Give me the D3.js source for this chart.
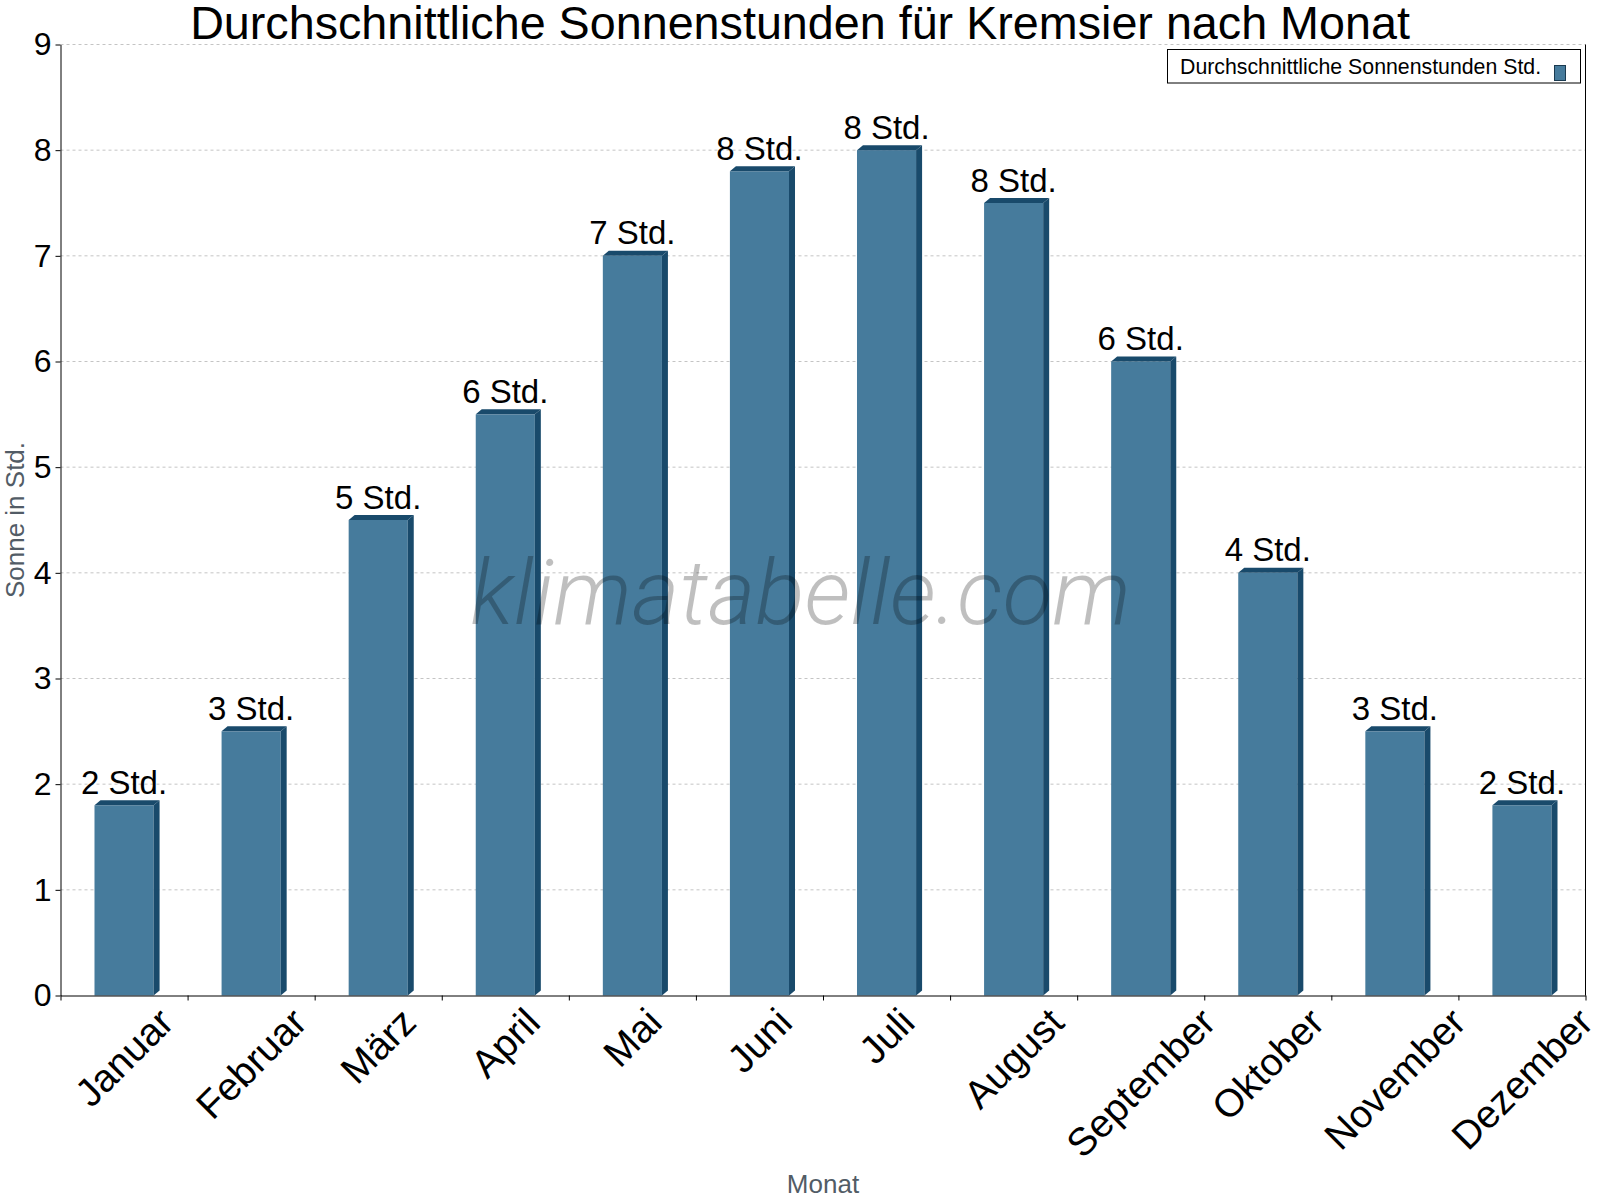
<!DOCTYPE html>
<html>
<head>
<meta charset="utf-8">
<script src="https://cdn.jsdelivr.net/npm/d3@7"></script>
<style>
  html, body { margin: 0; padding: 0; background: #fff; }
  svg { display: block; font-family: 'Liberation Sans', Arial, sans-serif; }
</style>
</head>
<body>
<svg id="chart" width="1600" height="1200"></svg>
<script>
// Données
const months = ['Januar', 'Februar', 'März', 'April', 'Mai', 'Juni', 'Juli', 'August', 'September', 'Oktober', 'November', 'Dezember']
const sunHours = [1.8, 2.5, 4.5, 5.5, 7.0, 7.8, 8.0, 7.5, 6.0, 4.0, 2.5, 1.8]
const barLabels = ['2 Std.', '3 Std.', '5 Std.', '6 Std.', '7 Std.', '8 Std.', '8 Std.', '8 Std.', '6 Std.', '4 Std.', '3 Std.', '2 Std.']
const yTicks = [0, 1, 2, 3, 4, 5, 6, 7, 8, 9]

const title = 'Durchschnittliche Sonnenstunden für Kremsier nach Monat'
const legendLabel = 'Durchschnittliche Sonnenstunden Std.'

const frontColor = '#467b9c'
const darkColor = '#194a6b'
const depth = { x: 6, y: 5 }

const margin = { top: 44.5, right: 14.5, bottom: 204.5, left: 60.5 }
const width = 1600 - margin.left - margin.right
const height = 1200 - margin.top - margin.bottom

const svg = d3.select('#chart')
const g = svg.append('g')
  .attr('transform', `translate(${margin.left},${margin.top})`)

const xScale = d3.scaleBand()
  .domain(months)
  .range([0, width])
  .paddingInner(0.535)
  .paddingOuter(0.2675)

const xEdges = d3.scaleLinear()
  .domain([0, months.length])
  .range([0, width])

const yScale = d3.scaleLinear()
  .domain([0, 9])
  .range([height, 0])

// Lignes de grille pointillées
g.append('g')
  .selectAll('line')
  .data(yTicks.filter(t => t > 0))
  .join('line')
  .attr('x1', 0)
  .attr('x2', width)
  .attr('y1', d => yScale(d))
  .attr('y2', d => yScale(d))
  .attr('stroke', '#c4c4c4')
  .attr('stroke-dasharray', '3,3')

// Barres en faux 3D
const bars = g.append('g')
  .selectAll('g')
  .data(months.map((m, i) => ({ month: m, value: sunHours[i], label: barLabels[i] })))
  .join('g')

bars.append('rect')
  .attr('x', d => xScale(d.month))
  .attr('y', d => yScale(d.value))
  .attr('width', xScale.bandwidth())
  .attr('height', d => height - yScale(d.value))
  .attr('fill', frontColor)

bars.append('polygon')
  .attr('fill', darkColor)
  .attr('points', d => {
    const x0 = xScale(d.month)
    const x1 = x0 + xScale.bandwidth()
    const y = yScale(d.value)
    return [[x0, y], [x0 + depth.x, y - depth.y], [x1 + depth.x, y - depth.y], [x1, y]].join(' ')
  })

bars.append('polygon')
  .attr('fill', darkColor)
  .attr('points', d => {
    const x1 = xScale(d.month) + xScale.bandwidth()
    const y = yScale(d.value)
    return [[x1, y], [x1 + depth.x, y - depth.y], [x1 + depth.x, height - depth.y], [x1, height]].join(' ')
  })

bars.append('text')
  .attr('x', d => xScale(d.month) + xScale.bandwidth() / 2)
  .attr('y', d => yScale(d.value) - 11.5)
  .attr('text-anchor', 'middle')
  .attr('fill', '#000')
  .style('font-size', '33px')
  .text(d => d.label)

// Axe Y
const yAxis = g.append('g')
  .call(d3.axisLeft(yScale).tickValues(yTicks).tickSize(5).tickSizeOuter(0).tickPadding(4))
yAxis.selectAll('text').style('font-size', '32px').attr('fill', '#000').style('font-family', 'inherit')
yAxis.selectAll('line, path').attr('stroke', '#000')

// Axe X (graduations aux limites des mois)
const xAxis = g.append('g')
  .attr('transform', `translate(0,${height})`)
  .call(d3.axisBottom(xEdges).tickValues(d3.range(0, months.length + 1)).tickFormat('').tickSize(5).tickSizeOuter(0))
xAxis.selectAll('line, path').attr('stroke', '#000')

// Bordure droite
g.append('line')
  .attr('x1', width)
  .attr('x2', width)
  .attr('y1', 0)
  .attr('y2', height)
  .attr('stroke', '#000')

// Étiquettes des mois, pivotées et centrées sous chaque mois
const labelTop = 1000
months.forEach(m => {
  const cx = margin.left + xScale(m) + xScale.bandwidth() / 2
  const label = svg.append('text')
    .attr('text-anchor', 'end')
    .attr('transform', `translate(${cx},${labelTop}) rotate(-45)`)
    .attr('fill', '#000')
    .style('font-size', '39px')
    .text(m)
  const box = label.node().getBoundingClientRect()
  const dx = cx - (box.left + box.right) / 2
  const dy = labelTop - box.top
  label.attr('transform', `translate(${cx + dx},${labelTop + dy}) rotate(-45)`)
})

// Filigrane
svg.append('text')
  .attr('x', 800.5)
  .attr('y', 624)
  .attr('text-anchor', 'middle')
  .attr('fill', '#000')
  .attr('fill-opacity', 0.25)
  .style('font-family', 'Roboto, sans-serif')
  .style('font-weight', 300)
  .style('font-style', 'italic')
  .style('font-size', '91.3px')
  .text('klimatabelle.com')

// Titre
svg.append('text')
  .attr('x', 800)
  .attr('y', 38.5)
  .attr('text-anchor', 'middle')
  .attr('fill', '#000')
  .style('font-size', '46.7px')
  .text(title)

// Titres des axes
svg.append('text')
  .attr('transform', `translate(24,${margin.top + height / 2}) rotate(-90)`)
  .attr('text-anchor', 'middle')
  .attr('fill', '#525c66')
  .style('font-size', '26px')
  .text('Sonne in Std.')

svg.append('text')
  .attr('x', margin.left + width / 2)
  .attr('y', 1192.5)
  .attr('text-anchor', 'middle')
  .attr('fill', '#525c66')
  .style('font-size', '26px')
  .text('Monat')

// Légende
const legend = svg.append('g')
legend.append('rect')
  .attr('x', 1167.5)
  .attr('y', 49.5)
  .attr('width', 413)
  .attr('height', 33.5)
  .attr('fill', '#fff')
  .attr('stroke', '#000')
legend.append('text')
  .attr('x', 1180)
  .attr('y', 73.5)
  .attr('fill', '#000')
  .style('font-size', '21.3px')
  .text(legendLabel)
legend.append('rect')
  .attr('x', 1554.5)
  .attr('y', 65.5)
  .attr('width', 11)
  .attr('height', 15)
  .attr('fill', frontColor)
  .attr('stroke', '#1a3a50')
</script>
</body>
</html>
